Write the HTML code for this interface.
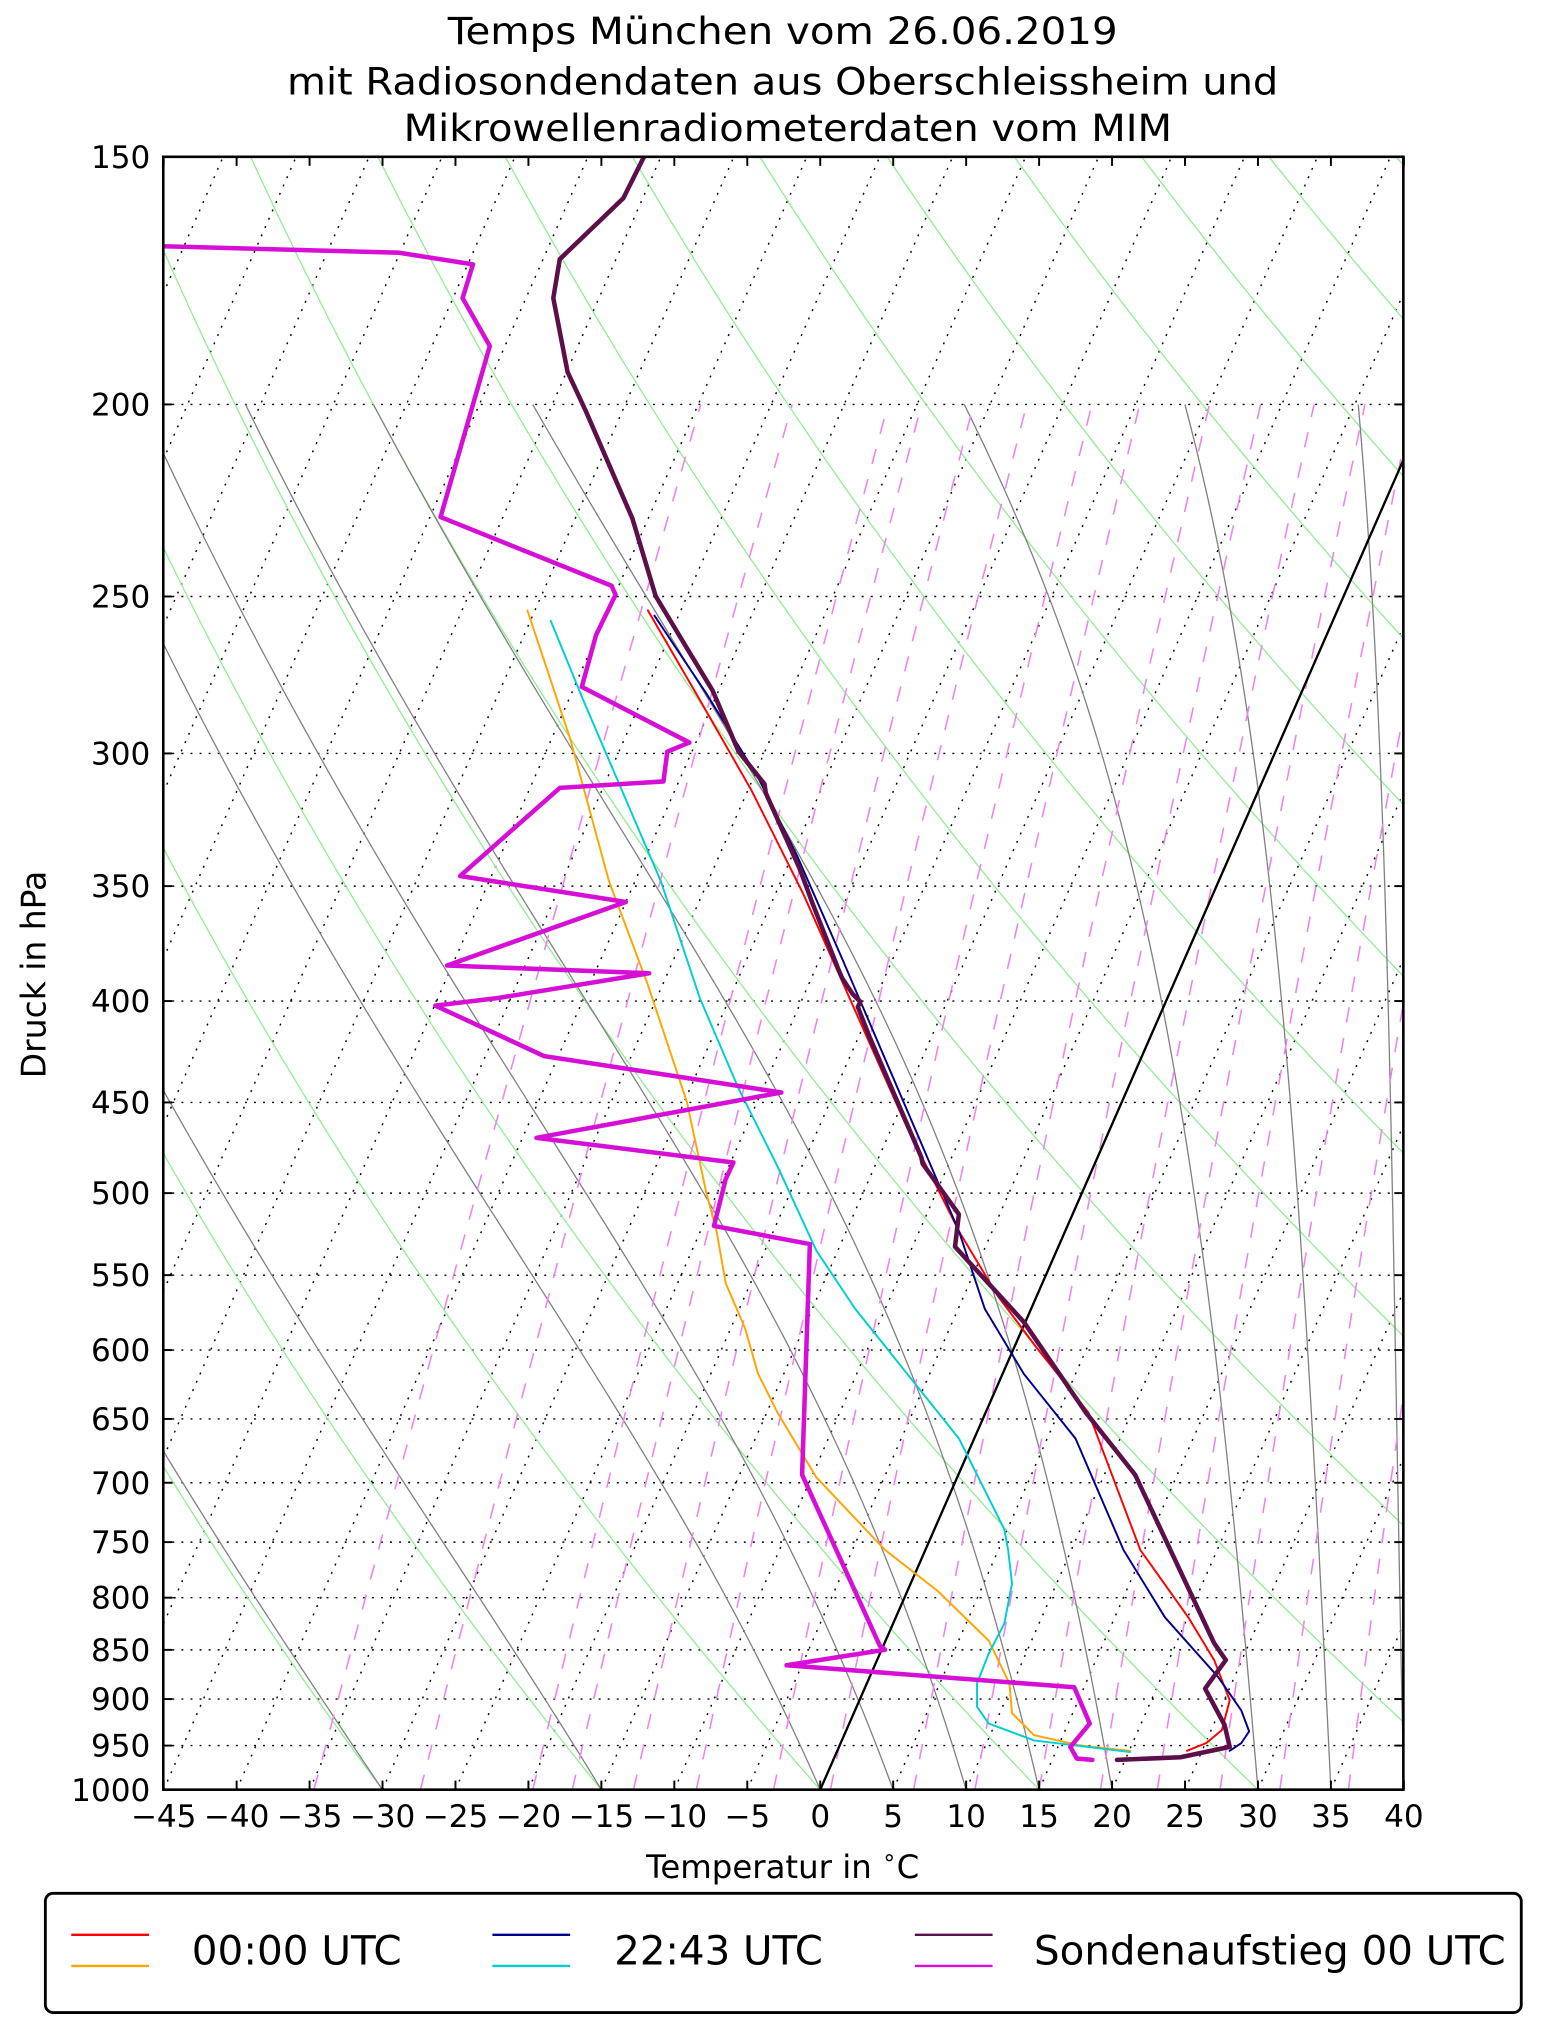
<!DOCTYPE html>
<html><head><meta charset="utf-8"><style>
html,body{margin:0;padding:0;background:#fff;}
svg{display:block;}
text{font-family:"DejaVu Sans","Liberation Sans",sans-serif;fill:#000;}
</style></head><body>
<svg id="s" width="1542" height="2032" viewBox="0 0 1190 1568" preserveAspectRatio="none" xmlns="http://www.w3.org/2000/svg">
<defs><clipPath id="c"><rect x="126" y="121" width="957" height="1260"/></clipPath></defs>
<rect x="0" y="0" width="1190" height="1568" fill="#fff"/>
<g id="grid" clip-path="url(#c)"></g>
<g id="data" clip-path="url(#c)" fill="none" stroke-linejoin="round" stroke-linecap="round"></g>
<rect x="126" y="121" width="957" height="1260" fill="none" stroke="#000" stroke-width="2"/>
<g id="ticks"></g>
<text x="604" y="34" font-size="29" text-anchor="middle" textLength="517" lengthAdjust="spacingAndGlyphs">Temps München vom 26.06.2019</text>
<text x="604" y="73" font-size="29" text-anchor="middle" textLength="765" lengthAdjust="spacingAndGlyphs">mit Radiosondendaten aus Oberschleissheim und</text>
<text x="608" y="109" font-size="29" text-anchor="middle" textLength="593" lengthAdjust="spacingAndGlyphs">Mikrowellenradiometerdaten vom MIM</text>
<text x="0" y="0" font-size="26" text-anchor="middle" transform="translate(35,752) rotate(-90)" textLength="160" lengthAdjust="spacingAndGlyphs">Druck in hPa</text>
<text x="604" y="1449" font-size="25" text-anchor="middle">Temperatur in <tspan font-size="18" dy="-10">∘</tspan><tspan dy="10">C</tspan></text>
<rect x="35" y="1461" width="1139" height="92" rx="6" ry="6" fill="#fff" stroke="#000" stroke-width="2.2"/>
<line x1="55" y1="1493" x2="115" y2="1493" stroke="#ff0000" stroke-width="1.8"/>
<line x1="55" y1="1517" x2="115" y2="1517" stroke="#ffa500" stroke-width="1.8"/>
<text x="148" y="1516" font-size="31" textLength="162" lengthAdjust="spacingAndGlyphs">00:00 UTC</text>
<line x1="380" y1="1493" x2="440" y2="1493" stroke="#00008b" stroke-width="1.8"/>
<line x1="380" y1="1517" x2="440" y2="1517" stroke="#00ced1" stroke-width="1.8"/>
<text x="474" y="1516" font-size="31" textLength="161" lengthAdjust="spacingAndGlyphs">22:43 UTC</text>
<line x1="706" y1="1493" x2="766" y2="1493" stroke="#5c0f48" stroke-width="1.8"/>
<line x1="706" y1="1517" x2="766" y2="1517" stroke="#d60fd6" stroke-width="1.8"/>
<text x="798" y="1516" font-size="31" textLength="364" lengthAdjust="spacingAndGlyphs">Sondenaufstieg 00 UTC</text>
</svg>
<script>
(function(){
var NS="http://www.w3.org/2000/svg";
function Y(p){return 121+664.2*Math.log(p/150);}
function X(T,p){return 633+11.26*T+291.3*Math.log(1000/p);}
var grid=document.getElementById('grid'),data=document.getElementById('data'),ticks=document.getElementById('ticks');
function el(par,tag,attrs,txt){var e=document.createElementNS(NS,tag);for(var k in attrs)e.setAttribute(k,attrs[k]);if(txt!==undefined)e.textContent=txt;par.appendChild(e);return e;}
function pts(arr){return arr.map(function(a){return a[0].toFixed(2)+','+a[1].toFixed(2);}).join(' ');}
for(var T=-120;T<=40;T+=5){el(grid,'line',{x1:X(T,1000),y1:Y(1000),x2:X(T,150),y2:Y(150),stroke:'#000','stroke-width':1.1,'stroke-dasharray':'1.5,5.5'});}
var P=[150,200,250,300,350,400,450,500,550,600,650,700,750,800,850,900,950,1000];
P.forEach(function(p){el(grid,'line',{x1:126,y1:Y(p),x2:1083,y2:Y(p),stroke:'#000','stroke-width':1.1,'stroke-dasharray':'1.5,5.5'});});
for(var t0=-30;t0<=250;t0+=15){var th=t0+273.15,a=[];for(var p=1000;p>=140;p-=10){a.push([X(th*Math.pow(p/1000,0.2857)-273.15,p),Y(p)]);}
 el(grid,'polyline',{points:pts(a),fill:'none',stroke:'#90ee90','stroke-width':1});}
function es(Tc){return 6.112*Math.exp(17.67*Tc/(Tc+243.5));}
function dTdp(Tk,p){var rs=0.622*es(Tk-273.15)/(p-es(Tk-273.15));var Rd=287.04,Cp=1005.7,Lv=2.501e6;
 return (Rd*Tk+Lv*rs)/(p*(Cp+Lv*Lv*rs*0.622/(Rd*Tk*Tk)));}
[-30,-15,0,5,10,15,20,30,35,40].forEach(function(t0){var Tk=t0+273.15,p=1000,a=[[X(t0,1000),Y(1000)]],h=-5;
 while(p>200){var k1=dTdp(Tk,p),k2=dTdp(Tk+h/2*k1,p+h/2),k3=dTdp(Tk+h/2*k2,p+h/2),k4=dTdp(Tk+h*k3,p+h);Tk+=h/6*(k1+2*k2+2*k3+k4);p+=h;a.push([X(Tk-273.15,p),Y(p)]);}
 el(grid,'polyline',{points:pts(a),fill:'none',stroke:'#808080','stroke-width':1});});
[-34.7,-27.4,-19.7,-17,-12.8,-8.5,-3.2,0.7,6.4,10.6,15,19.2,23.1,27.4,31.5,36.2].forEach(function(td){var e=es(td),w=0.622*e/(1000-e),a=[];
 for(var p=1000;p>=200;p-=10){var ee=w*p/(0.622+w),l=Math.log(ee/6.112);a.push([X(243.5*l/(17.67-l),p),Y(p)]);}
 el(grid,'polyline',{points:pts(a),fill:'none',stroke:'#ee82ee','stroke-width':1.2,'stroke-dasharray':'12,12'});});
el(data,'line',{x1:633,y1:1381,x2:1083,y2:355,stroke:'#000','stroke-width':1.8});
function L(c,w,a){el(data,'polyline',{points:a.map(function(q){return q.join(',')}).join(' '),stroke:c,'stroke-width':w});}
L('#ffa500',1.5,[[407,471],[440,570],[470,680],[500,760],[530,850],[545,920],[553,950],[560,990],[575,1025],[585,1060],[600,1090],[630,1140],[683,1196],[724,1228],[763,1266],[779,1299],[781,1322],[798,1339],[834,1347],[872,1351]]);
L('#00ced1',1.5,[[425,479],[450,540],[480,610],[510,680],[540,770],[570,840],[600,900],[630,965],[660,1010],[700,1060],[740,1110],[760,1150],[775,1180],[778,1196],[781,1222],[775,1253],[763,1276],[754,1299],[754,1317],[763,1330],[798,1343],[872,1352]]);
L('#ff0000',1.5,[[500,471],[540,540],[580,610],[620,690],[700,870],[740,950],[770,1000],[800,1040],[840,1090],[880,1196],[917,1248],[937,1281],[949,1312],[943,1335],[931,1345],[916,1351]]);
L('#00008b',1.5,[[505,475],[545,535],[585,600],[615,660],[650,740],[710,880],[740,950],[760,1010],[790,1060],[830,1110],[867,1196],[899,1248],[940,1294],[958,1320],[964,1336],[958,1345],[949,1351]]);
L('#d60fd6',3.5,[[126,190],[308,195],[365,204],[357,230],[378,267],[340,399],[472,452],[475,459],[460,490],[449,530],[532,573],[515,580],[512,603],[432,608],[355,676],[483,696],[345,745],[501,751],[385,770],[336,776],[420,815],[603,843],[414,878],[566,897],[560,910],[551,946],[625,960],[619,1138],[679,1270],[683,1273],[607,1285],[829,1302],[841,1330],[826,1348],[831,1357],[843,1358]]);
L('#5c0f48',3.5,[[497,121],[481,153],[432,200],[427,230],[438,287],[452,317],[488,400],[506,460],[530,500],[550,533],[553,540],[570,580],[590,605],[591,612],[617,670],[627,697],[647,748],[650,755],[658,767],[664,773],[662,777],[671,800],[711,893],[712,898],[740,937],[737,962],[790,1020],[838,1090],[876,1138],[937,1268],[946,1281],[930,1303],[945,1331],[949,1348],[911,1356],[862,1358]]);
P.forEach(function(p){var y=Y(p);el(ticks,'line',{x1:126,y1:y,x2:133,y2:y,stroke:'#000','stroke-width':1.5});el(ticks,'line',{x1:1076,y1:y,x2:1083,y2:y,stroke:'#000','stroke-width':1.5});
 el(ticks,'text',{x:116,y:y+8.5,'font-size':24,'text-anchor':'end'},String(p));});
for(var T=-45;T<=40;T+=5){var x=633+11.26*T;el(ticks,'line',{x1:x,y1:1381,x2:x,y2:1374,stroke:'#000','stroke-width':1.5});el(ticks,'line',{x1:x,y1:121,x2:x,y2:128,stroke:'#000','stroke-width':1.5});
 el(ticks,'text',{x:x,y:1410,'font-size':24,'text-anchor':'middle'},(T<0?'\u2212':'')+Math.abs(T));}
})();
</script>
</body></html>
